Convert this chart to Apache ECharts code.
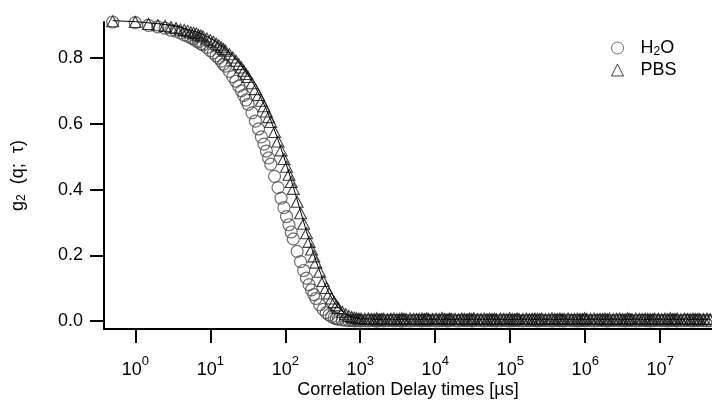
<!DOCTYPE html>
<html>
<head>
<meta charset="utf-8">
<script src="https://cdn.jsdelivr.net/npm/echarts@6/dist/echarts.min.js"></script>
<style>
  html, body { margin: 0; padding: 0; background: #fff; }
  #chart { width: 712px; height: 401px; }
</style>
</head>
<body>
<div id="chart"></div>
<script>
// Correlator lag times (µs), multi-tau layout
const tau = [
  0.5, 1, 1.5, 2, 2.5, 3, 3.5, 4, 4.5, 5, 5.5, 6, 6.5, 7, 7.5, 8,
  9, 10, 11, 12, 13, 14, 15, 16,
  18, 20, 22, 24, 26, 28, 30, 32,
  36, 40, 44, 48, 52, 56, 60, 64,
  72, 80, 88, 96, 104, 112, 120, 128,
  144, 160, 176, 192, 208, 224, 240, 256,
  288, 320, 352, 384, 416, 448, 480, 512,
  576, 640, 704, 768, 832, 896, 960, 1024,
  1152, 1280, 1408, 1536, 1664, 1792, 1920, 2048,
  2304, 2560, 2816, 3072, 3328, 3584, 3840, 4096,
  4608, 5120, 5632, 6144, 6656, 7168, 7680, 8192,
  9216, 10240, 11264, 12288, 13312, 14336, 15360, 16384,
  18432, 20480, 22528, 24576, 26624, 28672, 30720, 32768,
  36864, 40960, 45056, 49152, 53248, 57344, 61440, 65536,
  73728, 81920, 90112, 98304, 106496, 114688, 122880, 131072,
  147456, 163840, 180224, 196608, 212992, 229376, 245760, 262144,
  294912, 327680, 360448, 393216, 425984, 458752, 491520, 524288,
  589824, 655360, 720896, 786432, 851968, 917504, 983040, 1048576,
  1179648, 1310720, 1441792, 1572864, 1703936, 1835008, 1966080, 2097152,
  2359296, 2621440, 2883584, 3145728, 3407872, 3670016, 3932160, 4194304,
  4718592, 5242880, 5767168, 6291456, 6815744, 7340032, 7864320, 8388608,
  9437184, 10485760, 11534336, 12582912, 13631488, 14680064, 15728640, 16777216,
  18874368, 20971520, 23068672, 25165824, 27262976, 29360128, 31457280, 33554432,
  37748736, 41943040, 46137344
];

// g2 for the sample in water
const g2H2O = [
  0.909, 0.907, 0.899, 0.894, 0.890, 0.884, 0.881, 0.876, 0.870, 0.866, 0.861, 0.858, 0.851, 0.849, 0.843, 0.840,
  0.832, 0.822, 0.815, 0.806, 0.799, 0.790, 0.781, 0.775,
  0.759, 0.743, 0.729, 0.714, 0.700, 0.686, 0.672, 0.659,
  0.633, 0.608, 0.584, 0.560, 0.538, 0.517, 0.496, 0.477,
  0.440, 0.406, 0.374, 0.345, 0.318, 0.293, 0.271, 0.250,
  0.212, 0.181, 0.154, 0.131, 0.111, 0.095, 0.081, 0.069,
  0.050, 0.036, 0.026, 0.019, 0.014, 0.010, 0.008, 0.006,
  0.004, 0.003, 0.002, 0.003, 0.001, 0.002, 0.002, 0.001,
  0.002, 0.001, 0.003, 0.002, 0.000, 0.002, 0.003, 0.001,
  0.002, 0.003, 0.001, 0.002, 0.002, 0.000, 0.003, 0.002,
  0.001, 0.002, 0.003, 0.002, 0.001, 0.003, 0.002, 0.002,
  0.003, 0.001, 0.002, 0.002, 0.003, 0.001, 0.002, 0.004,
  0.002, 0.001, 0.003, 0.002, 0.002, 0.003, 0.001, 0.002,
  0.003, 0.002, 0.001, 0.002, 0.003, 0.002, 0.002, 0.001,
  0.002, 0.003, 0.002, 0.001, 0.002, 0.002, 0.003, 0.002,
  0.001, 0.002, 0.002, 0.003, 0.002, 0.001, 0.002, 0.003,
  0.002, 0.002, 0.001, 0.002, 0.003, 0.002, 0.002, 0.001,
  0.003, 0.002, 0.002, 0.001, 0.002, 0.003, 0.002, 0.002,
  0.002, 0.001, 0.002, 0.003, 0.002, 0.002, 0.001, 0.002,
  0.002, 0.003, 0.002, 0.002, 0.001, 0.002, 0.003, 0.002,
  0.001, 0.002, 0.003, 0.002, 0.002, 0.001, 0.002, 0.002,
  0.003, 0.002, 0.002, 0.001, 0.002, 0.003, 0.002, 0.001,
  0.002, 0.002, 0.003, 0.002, 0.001, 0.002, 0.002, 0.003,
  0.002, 0.001, 0.002
];

// g2 for the sample in PBS buffer
const g2PBS = [
  0.911, 0.909, 0.903, 0.899, 0.897, 0.893, 0.891, 0.886, 0.885, 0.882, 0.878, 0.876, 0.874, 0.869, 0.868, 0.865,
  0.859, 0.854, 0.849, 0.843, 0.838, 0.832, 0.827, 0.822,
  0.811, 0.801, 0.791, 0.781, 0.771, 0.761, 0.751, 0.742,
  0.723, 0.705, 0.687, 0.670, 0.653, 0.637, 0.620, 0.605,
  0.575, 0.546, 0.519, 0.493, 0.469, 0.445, 0.423, 0.402,
  0.363, 0.328, 0.296, 0.267, 0.241, 0.218, 0.197, 0.178,
  0.150, 0.122, 0.101, 0.084, 0.069, 0.058, 0.048, 0.040,
  0.029, 0.021, 0.016, 0.013, 0.011, 0.009, 0.008, 0.008,
  0.007, 0.008, 0.006, 0.007, 0.009, 0.006, 0.007, 0.008,
  0.006, 0.007, 0.008, 0.006, 0.007, 0.009, 0.007, 0.006,
  0.008, 0.007, 0.006, 0.007, 0.008, 0.006, 0.009, 0.007,
  0.006, 0.008, 0.007, 0.010, 0.007, 0.006, 0.008, 0.007,
  0.007, 0.006, 0.008, 0.007, 0.006, 0.008, 0.007, 0.009,
  0.006, 0.007, 0.008, 0.006, 0.007, 0.007, 0.008, 0.006,
  0.008, 0.007, 0.006, 0.009, 0.007, 0.006, 0.008, 0.007,
  0.007, 0.008, 0.006, 0.007, 0.008, 0.007, 0.006, 0.008,
  0.006, 0.007, 0.009, 0.007, 0.006, 0.008, 0.007, 0.007,
  0.008, 0.006, 0.007, 0.008, 0.007, 0.006, 0.009, 0.007,
  0.007, 0.008, 0.006, 0.007, 0.007, 0.008, 0.006, 0.008,
  0.006, 0.007, 0.008, 0.007, 0.006, 0.009, 0.007, 0.006,
  0.008, 0.007, 0.006, 0.008, 0.007, 0.007, 0.006, 0.008,
  0.007, 0.006, 0.008, 0.007, 0.009, 0.006, 0.007, 0.008,
  0.006, 0.008, 0.007, 0.006, 0.008, 0.007, 0.007, 0.006,
  0.007, 0.008, 0.006
];

// Fitted decay curve for the PBS sample
const fitTau = [0.5, 1, 2, 3, 4, 6, 8, 10, 12, 16, 20, 24, 32, 40, 48, 56, 64, 80, 96, 112, 128,
  160, 192, 224, 256, 320, 384, 448, 512, 640, 768, 1024, 2048, 10000, 100000, 1000000, 10000000, 46137344];
const fitPBS = [0.913, 0.910, 0.904, 0.899, 0.893, 0.882, 0.871, 0.860, 0.849, 0.828, 0.807, 0.787, 0.748,
  0.711, 0.676, 0.643, 0.611, 0.552, 0.499, 0.451, 0.408, 0.334, 0.273, 0.224, 0.184, 0.124, 0.085,
  0.058, 0.041, 0.021, 0.013, 0.007, 0.006, 0.006, 0.006, 0.006, 0.006, 0.006];

// Axis ticks
const xTicks = [1, 10, 100, 1000, 10000, 100000, 1000000, 10000000];
const yTicks = [0, 0.2, 0.4, 0.6, 0.8];

const FONT = "'Liberation Sans', Arial, Helvetica, sans-serif";
const pairs = (xs, ys) => xs.map((x, i) => [x, ys[i]]);

const chart = echarts.init(document.getElementById('chart'), null, { renderer: 'canvas' });

chart.setOption({
  animation: false,
  backgroundColor: '#fff',
  textStyle: { fontFamily: FONT, color: '#000' },
  grid: { left: 104, right: 0, top: 22, bottom: 72, containLabel: false, outerBoundsMode: 'none' },
  legend: {
    orient: 'vertical',
    left: 611,
    top: 38,
    padding: 0,
    itemWidth: 12,
    itemHeight: 12,
    itemGap: 2,
    data: ['H2O', 'PBS'],
    itemStyle: { borderWidth: 1 },
    formatter: name => (name === 'H2O' ? 'H{sub|2}O' : name),
    textStyle: {
      fontFamily: FONT, fontSize: 18, color: '#000', lineHeight: 20, padding: [0, 0, 0, 12],
      rich: { sub: { fontFamily: FONT, fontSize: 12, lineHeight: 10, verticalAlign: 'bottom', color: '#000' } }
    }
  },
  xAxis: {
    type: 'log',
    logBase: 10,
    min: 0.383,
    max: 4.9e7,
    name: 'Correlation Delay times [\u00b5s]',
    nameLocation: 'middle',
    nameGap: 52,
    nameMoveOverlap: false,
    nameTextStyle: { fontFamily: FONT, fontSize: 18, color: '#000' },
    axisLine: { onZero: false, lineStyle: { color: '#000', width: 2 } },
    axisTick: { inside: false, length: 14, lineStyle: { color: '#000', width: 2 }, customValues: xTicks },
    minorTick: { show: false },
    splitLine: { show: false },
    axisLabel: {
      customValues: xTicks,
      margin: 32,
      formatter: v => '{b|10}{s|' + Math.round(Math.log10(v)) + '}',
      rich: {
        b: { fontFamily: FONT, fontSize: 18, lineHeight: 18, verticalAlign: 'middle', color: '#000' },
        s: { fontFamily: FONT, fontSize: 13, lineHeight: 13, padding: [0, 0, 18, 0], verticalAlign: 'middle', color: '#000' }
      }
    }
  },
  yAxis: {
    type: 'value',
    min: -0.0237,
    max: 0.909,
    name: 'g{sub|2}  (q;  \u03c4)',
    nameLocation: 'middle',
    nameGap: 76,
    nameMoveOverlap: false,
    nameTextStyle: {
      fontFamily: FONT, fontSize: 18, color: '#000', lineHeight: 20,
      rich: { sub: { fontFamily: FONT, fontSize: 12, lineHeight: 10, verticalAlign: 'bottom', color: '#000' } }
    },
    axisLine: { show: true, onZero: false, lineStyle: { color: '#000', width: 2 } },
    axisTick: { show: true, inside: false, length: 14, lineStyle: { color: '#000', width: 2 }, customValues: yTicks },
    splitLine: { show: false },
    axisLabel: {
      customValues: yTicks,
      margin: 21,
      formatter: v => v.toFixed(1),
      fontFamily: FONT, fontSize: 18, color: '#000'
    }
  },
  series: [
    {
      name: 'H2O',
      type: 'scatter',
      symbol: 'circle',
      symbolSize: 12,
      clip: false,
      data: pairs(tau, g2H2O),
      itemStyle: { color: 'rgba(255,255,255,0)', borderColor: '#4a4a4a', borderWidth: 1.2 },
      emphasis: { disabled: true },
      z: 2
    },
    {
      name: 'PBS',
      type: 'scatter',
      symbol: 'triangle',
      symbolSize: [12, 11],
      clip: false,
      data: pairs(tau, g2PBS),
      itemStyle: { color: 'rgba(255,255,255,0)', borderColor: '#111', borderWidth: 1.1 },
      emphasis: { disabled: true },
      z: 3
    },
    {
      name: 'PBS fit',
      type: 'line',
      data: pairs(fitTau, fitPBS),
      showSymbol: false,
      symbol: 'none',
      smooth: false,
      clip: false,
      lineStyle: { color: '#000', width: 1 },
      emphasis: { disabled: true },
      z: 4
    }
  ]
});
</script>
</body>
</html>
